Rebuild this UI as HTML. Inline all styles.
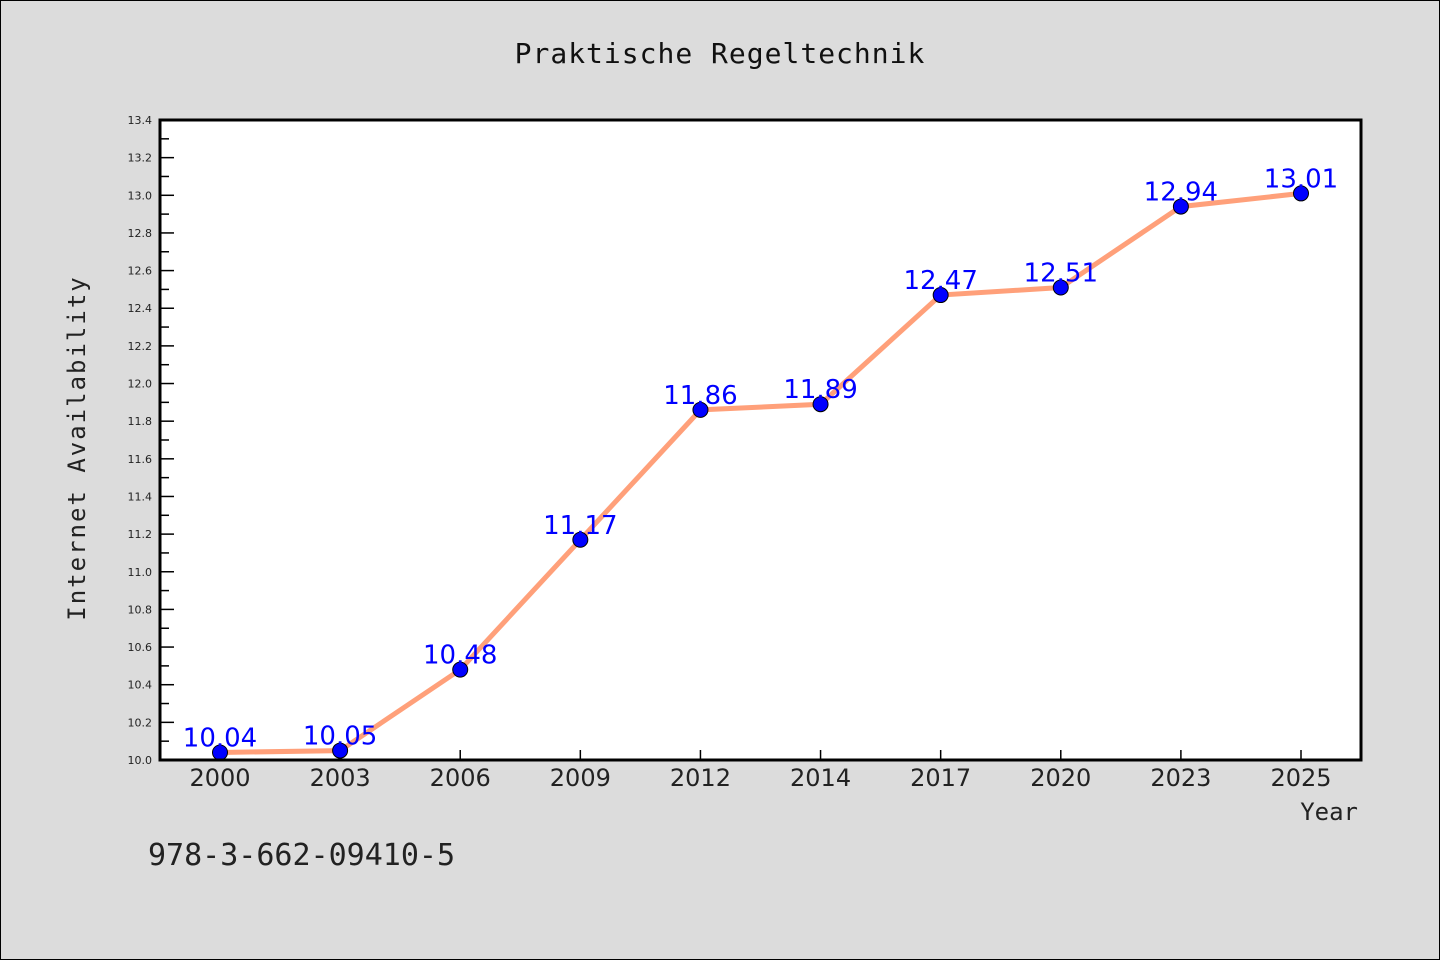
<!DOCTYPE html>
<html><head><meta charset="utf-8"><style>
body{margin:0;background:#dcdcdc;}
svg{display:block;font-family:"DejaVu Sans","Liberation Sans",sans-serif;}
</style></head><body>
<svg id="c" width="1440" height="960">
<rect x="0.5" y="0.5" width="1439" height="959" fill="#dcdcdc" stroke="#000"/>
<text x="720" y="63" text-anchor="middle" font-size="28" font-family="'WenQuanYi Zen Hei',monospace" letter-spacing="1" fill="#111">Praktische Regeltechnik</text>
<rect x="160" y="120" width="1201" height="640" fill="#fff"/>
<g id="g"></g>
<rect x="160" y="120" width="1201" height="640" fill="none" stroke="#000" stroke-width="3"/>
<text transform="translate(85,448) rotate(-90)" text-anchor="middle" font-size="24" font-family="'WenQuanYi Zen Hei',monospace" letter-spacing="2" fill="#222">Internet Availability</text>
<text x="1358" y="820" text-anchor="end" font-size="24" font-family="'WenQuanYi Zen Hei',monospace" fill="#222">Year</text>
<text x="148" y="865" font-size="30" font-family="'WenQuanYi Zen Hei',monospace" fill="#222">978-3-662-09410-5</text>
</svg>
<script>
const categories=["2000","2003","2006","2009","2012","2014","2017","2020","2023","2025"];
const values=[10.04,10.05,10.48,11.17,11.86,11.89,12.47,12.51,12.94,13.01];
const yTicks=[10.0,10.2,10.4,10.6,10.8,11.0,11.2,11.4,11.6,11.8,12.0,12.2,12.4,12.6,12.8,13.0,13.2,13.4];
const yMin=10.0,yMax=13.4;
const NS="http://www.w3.org/2000/svg",g=document.getElementById('g');
const L=160,R=1361,T=120,B=760;
const y=v=>B-(v-yMin)/(yMax-yMin)*(B-T);
const x=i=>220+i*((R-L-120)/(categories.length-1));
function el(t,a){const e=document.createElementNS(NS,t);for(const k in a)e.setAttribute(k,a[k]);g.appendChild(e);return e;}
yTicks.forEach((v,i)=>{
 const t=el('line',{x1:L,x2:L+14,y1:y(v),y2:y(v),stroke:'#000','stroke-width':1.5});
 
 
 if(i<yTicks.length-1){const m=el('line',{x1:L,x2:L+9,y1:y(v+0.1),y2:y(v+0.1),stroke:'#000','stroke-width':1.5});
 
 }
 const s=el('text',{x:152,y:y(v)+4,'text-anchor':'end','font-size':11,fill:'#222'});s.textContent=v.toFixed(1);
 
 
});
categories.forEach((c,i)=>{
 const t=el('line',{x1:x(i),x2:x(i),y1:B,y2:B-10,stroke:'#000','stroke-width':1.5});
 
 
 const s=el('text',{x:x(i),y:B+26,'text-anchor':'middle','font-size':24,fill:'#222'});s.textContent=c;
 
 
});
const ln=el('polyline',{points:values.map((v,i)=>x(i)+','+y(v)).join(' '),fill:'none',stroke:'#ffa07a','stroke-width':5});


values.forEach((v,i)=>{
 const c=el('circle',{cx:x(i),cy:y(v),r:7.5,fill:'#0000ff',stroke:'#000','stroke-width':1});
 
 
 const s=el('text',{x:x(i),y:y(v)-6,'text-anchor':'middle','font-size':26,fill:'#0000ff'});s.textContent=v.toFixed(2);
 
 
});
</script>
</body></html>
